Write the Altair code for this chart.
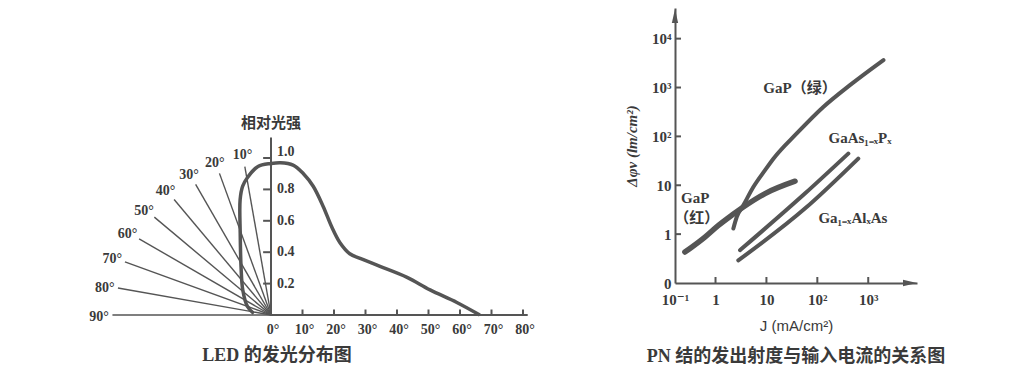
import math
import altair as alt
import pandas as pd

# ================= Left chart: LED 的发光分布图 =================
# right half: relative intensity vs angle
angle_deg = [0, 3, 7, 10.3, 13.4, 16.6, 19.3, 21.9, 25, 28.3, 34.6, 43.2, 50.5, 59, 66.3]
rel_intensity = [0.965, 0.97, 0.955, 0.90, 0.82, 0.69, 0.56, 0.46, 0.39, 0.36, 0.31, 0.24, 0.16, 0.08, 0.0]
# left half: the same pattern drawn in polar form (angle from axis, radius)
polar_angle = [0, 5, 9.6, 12.4, 15, 20.5, 32, 48.5, 70, 85]
polar_r = [0.965, 0.95, 0.89, 0.84, 0.76, 0.56, 0.36, 0.24, 0.16, 0.11]
ray_angles = [10, 20, 30, 40, 50, 60, 70, 80, 90]
ray_lengths = [0.96, 0.96, 0.96, 0.96, 0.97, 0.97, 0.99, 0.99, 1.01]
ray_labels = ["10°", "20°", "30°", "40°", "50°", "60°", "70°", "80°", "90°"]
deg_ticks = [0, 10, 20, 30, 40, 50, 60, 70, 80]
deg_tick_labels = ["0°", "10°", "20°", "30°", "40°", "50°", "60°", "70°", "80°"]
int_ticks = [0.2, 0.4, 0.6, 0.8, 1.0]
int_tick_labels = ["0.2", "0.4", "0.6", "0.8", "1.0"]
left_title = "相对光强"
left_caption = "LED 的发光分布图"

# ================= Right chart: PN 结 =================
gap_red_J = [0.25, 0.34, 0.62, 1.14, 2.08, 3.52, 9.4, 36.5]
gap_red_P = [0.43, 0.54, 0.87, 1.51, 2.43, 3.59, 6.76, 12.1]
gap_green_J = [2.24, 2.61, 3.52, 5.53, 9.4, 13.7, 39.4, 131, 437, 1990]
gap_green_P = [1.30, 2.24, 3.89, 9.2, 20.4, 35, 115, 400, 1120, 3650]
gaasp_J = [3.03, 57, 407]
gaasp_P = [0.47, 6.76, 44.6]
gaalas_J = [2.8, 57, 638]
gaalas_P = [0.29, 3.33, 35.2]
x_tick_values = [1, 10, 100, 1000]
x_tick_labels = ["1", "10", "10²", "10³"]
x_origin_label = "10⁻¹"
y_tick_values = [0.1, 1, 10, 100, 1000, 10000]
y_tick_labels = ["0", "1", "10", "10²", "10³", "10⁴"]
series_labels = ["GaP（绿）", "GaAs₁₋ₓPₓ", "Ga₁₋ₓAlₓAs", "GaP", "（红）"]
series_label_J = [45.7, 690, 500, 0.40, 0.43]
series_label_P = [970, 92, 2.11, 5.4, 2.11]
right_caption = "PN 结的发出射度与输入电流的关系图"
x_title = "J (mA/cm²)"
y_title = "Δφv (lm/cm²)"

# ---------------- styling / layout ----------------
LINE = "#555555"
TXT = "#3a3a3a"
SERIF = "Liberation Serif, DejaVu Serif, serif"
CJK = "Liberation Serif, Noto Sans CJK SC, sans-serif"

LW, LH = 526, 360
PX_DEG = 3.15
PX_UNIT = 157.0
ORIGIN_FROM_TOP = 307.0
x_dom_L = [-LW / 2 / PX_DEG, LW / 2 / PX_DEG]
y_dom_L = [-(LH - ORIGIN_FROM_TOP) / PX_UNIT, ORIGIN_FROM_TOP / PX_UNIT]
K = PX_UNIT / PX_DEG  # degree-axis units per radius unit (polar half)

xL = alt.Scale(domain=x_dom_L, nice=False, zero=False)
yL = alt.Scale(domain=y_dom_L, nice=False, zero=False)


def XL():
    return alt.X("x:Q", scale=xL, axis=None)


def YL():
    return alt.Y("y:Q", scale=yL, axis=None)


# rays
ray_df = pd.DataFrame({
    "x": [0.0] * len(ray_angles),
    "y": [0.0] * len(ray_angles),
    "x2": [-L * math.sin(math.radians(a)) * K for a, L in zip(ray_angles, ray_lengths)],
    "y2": [L * math.cos(math.radians(a)) for a, L in zip(ray_angles, ray_lengths)],
})
rays = alt.Chart(ray_df).mark_rule(color=LINE, strokeWidth=1.4).encode(
    x=XL(), y=YL(), x2="x2:Q", y2="y2:Q")

ray_lab_df = pd.DataFrame({
    "x": [-(L + 0.085) * math.sin(math.radians(a)) * K for a, L in zip(ray_angles, ray_lengths)],
    "y": [(L + 0.085) * math.cos(math.radians(a)) for a, L in zip(ray_angles, ray_lengths)],
    "t": ray_labels,
})
ray_text = alt.Chart(ray_lab_df).mark_text(font=SERIF, fontSize=14, fontWeight="bold",
                                           color=TXT, align="center", baseline="middle", dy=2).encode(
    x=XL(), y=YL(), text="t:N")

# axes
axis_df = pd.DataFrame({"x": [0.0, 0.0], "y": [0.0, 0.0], "x2": [81.5, 0.0], "y2": [0.0, 1.13]})
axes_L = alt.Chart(axis_df).mark_rule(color=LINE, strokeWidth=2).encode(
    x=XL(), y=YL(), x2="x2:Q", y2="y2:Q")

xt_df = pd.DataFrame({"x": deg_ticks[1:], "y": [0.0] * 8, "x2": deg_ticks[1:], "y2": [0.035] * 8})
yt_df = pd.DataFrame({"x": [-2.5] * 5, "y": int_ticks, "x2": [0.0] * 5, "y2": int_ticks})
ticks_L = alt.Chart(pd.concat([xt_df, yt_df])).mark_rule(color=LINE, strokeWidth=2).encode(
    x=XL(), y=YL(), x2="x2:Q", y2="y2:Q")

xlab_df = pd.DataFrame({"x": deg_ticks, "y": [-0.095] * len(deg_ticks), "t": deg_tick_labels})
xlab_L = alt.Chart(xlab_df).mark_text(font=SERIF, fontSize=14, fontWeight="bold", color=TXT,
                                      align="center", baseline="middle", dx=2).encode(
    x=XL(), y=YL(), text="t:N")
ylab_df = pd.DataFrame({"x": [0.0] * 5, "y": int_ticks, "t": int_tick_labels})
ylab_low = alt.Chart(ylab_df.iloc[:-1]).mark_text(font=SERIF, fontSize=14, fontWeight="bold", color=TXT,
                                                  align="left", baseline="middle", dx=6).encode(
    x=XL(), y=YL(), text="t:N")
# the top label (1.0) sits just above the curve in the original
ylab_top = alt.Chart(ylab_df.iloc[[-1]]).mark_text(font=SERIF, fontSize=14, fontWeight="bold", color=TXT,
                                                   align="left", baseline="middle", dx=6, dy=-6).encode(
    x=XL(), y=YL(), text="t:N")

# intensity curve: polar half (left) + angle-axis half (right)
rows = []
for i, (a, r) in enumerate(zip(reversed(polar_angle), reversed(polar_r))):
    rows.append({"x": -r * math.sin(math.radians(a)) * K, "y": r * math.cos(math.radians(a)), "o": i})
n = len(rows)
for j, (a, r) in enumerate(zip(angle_deg[1:], rel_intensity[1:])):
    rows.append({"x": a, "y": r, "o": n + j})
curve_df = pd.DataFrame(rows)
curve = alt.Chart(curve_df).mark_line(color=LINE, strokeWidth=3.5, interpolate="catmull-rom").encode(
    x=XL(), y=YL(), order="o:Q")

ann_L = pd.DataFrame({"x": [0.0, 1.9], "y": [1.225, -0.26], "t": [left_title, left_caption]})
title_L = alt.Chart(ann_L.iloc[[0]]).mark_text(font="Noto Sans CJK SC", fontSize=15, fontWeight="bold",
                                               color=TXT, align="center", baseline="middle").encode(
    x=XL(), y=YL(), text="t:N")
cap_L = alt.Chart(ann_L.iloc[[1]]).mark_text(font=CJK, fontSize=18, fontWeight="bold",
                                             color=TXT, align="center", baseline="middle").encode(
    x=XL(), y=YL(), text="t:N")

left = alt.layer(rays, axes_L, ticks_L, curve, ray_text, xlab_L, ylab_low, ylab_top,
                 title_L, cap_L).properties(width=LW, height=LH)

# ---------------- right chart ----------------
RW, RH = 242, 275
x_min, x_max = 10 ** -0.796, 10 ** 3.958
y_min, y_max = 0.1, 10 ** 4.627
ppd_x = RW / (math.log10(x_max) - math.log10(x_min))
ppd_y = RH / (math.log10(y_max) - math.log10(y_min))

xR = alt.Scale(type="log", domain=[x_min, x_max], nice=False)
yR = alt.Scale(type="log", domain=[y_min, y_max], nice=False)


def label_expr(vals, labs):
    parts = [f"datum.value < {v * 1.5} ? '{l}'" for v, l in zip(vals, labs)]
    return " : ".join(parts) + " : ''"


axis_x = alt.Axis(values=[x_min] + x_tick_values,
                  labelExpr=label_expr([x_min] + x_tick_values, [x_origin_label] + x_tick_labels),
                  ticks=False, tickSize=0, grid=False, domainColor=LINE, domainWidth=2,
                  labelFont=SERIF, labelFontSize=15, labelFontWeight="bold", labelColor=TXT,
                  labelPadding=9, labelFlush=False, labelOverlap=False,
                  title=x_title, titleFont="Liberation Sans", titleFontSize=15, titleFontWeight="normal",
                  titleColor=TXT, titlePadding=11)
axis_y = alt.Axis(values=y_tick_values, labelExpr=label_expr(y_tick_values, y_tick_labels),
                  ticks=False, tickSize=0, grid=False, domainColor=LINE, domainWidth=2,
                  labelFont=SERIF, labelFontSize=15, labelFontWeight="bold", labelColor=TXT,
                  labelPadding=4, labelFlush=False, labelOverlap=False,
                  title=y_title, titleFont=SERIF, titleFontSize=15, titleFontStyle="italic",
                  titleFontWeight="bold", titleColor=TXT, titlePadding=12)


def XR():
    return alt.X("x:Q", scale=xR, axis=axis_x)


def YR():
    return alt.Y("y:Q", scale=yR, axis=axis_y)


series = [
    ("GaP red", gap_red_J, gap_red_P, 5.5),
    ("GaP green", gap_green_J, gap_green_P, 4.0),
    ("GaAsP", gaasp_J, gaasp_P, 4.0),
    ("GaAlAs", gaalas_J, gaalas_P, 4.0),
]
r_layers = []
for name, J, P, w in series:
    df = pd.DataFrame({"x": J, "y": P})
    r_layers.append(alt.Chart(df).mark_line(color=LINE, strokeWidth=w, interpolate="monotone",
                                            strokeCap="round").encode(x=XR(), y=YR()))

tick_rows = [{"x": v, "y": y_min, "x2": v, "y2": y_min * 10 ** (6 / ppd_y)} for v in x_tick_values]
tick_rows += [{"x": x_min, "y": v, "x2": x_min * 10 ** (6 / ppd_x), "y2": v} for v in y_tick_values[1:]]
ticks_R = alt.Chart(pd.DataFrame(tick_rows)).mark_rule(color=LINE, strokeWidth=2).encode(
    x=XR(), y=YR(), x2="x2:Q", y2="y2:Q")

arrow_up = alt.Chart(pd.DataFrame({"x": [x_min], "y": [y_max / 10 ** (8 / ppd_y)]})).mark_point(
    shape="M0,-1L0.45,1L-0.45,1Z", size=196, filled=True, color=LINE, opacity=1, strokeWidth=0).encode(
    x=XR(), y=YR())
arrow_right = alt.Chart(pd.DataFrame({"x": [x_max / 10 ** (7 / ppd_x)], "y": [y_min]})).mark_point(
    shape="M1,0L-1,0.45L-1,-0.45Z", size=196, filled=True, color=LINE, opacity=1, strokeWidth=0).encode(
    x=XR(), y=YR())

lab_df = pd.DataFrame({"x": series_label_J, "y": series_label_P, "t": series_labels})
labels_R = alt.Chart(lab_df).mark_text(font=CJK, fontSize=15, fontWeight="bold", color=TXT,
                                       align="center", baseline="middle").encode(
    x=XR(), y=YR(), text="t:N")

right = alt.layer(*r_layers, ticks_R, arrow_up, arrow_right, labels_R).properties(
    width=RW, height=RH,
    title=alt.TitleParams(right_caption, orient="bottom", anchor="middle", frame="group",
                          font=CJK, fontSize=18, fontWeight="bold", color=TXT, offset=15))

chart = alt.hconcat(left, right, spacing=141, bounds="flush").properties(
    padding=0, background="white"
).configure_view(stroke=None)

chart.save("out.html", embed_options={"renderer": "svg", "actions": False})
